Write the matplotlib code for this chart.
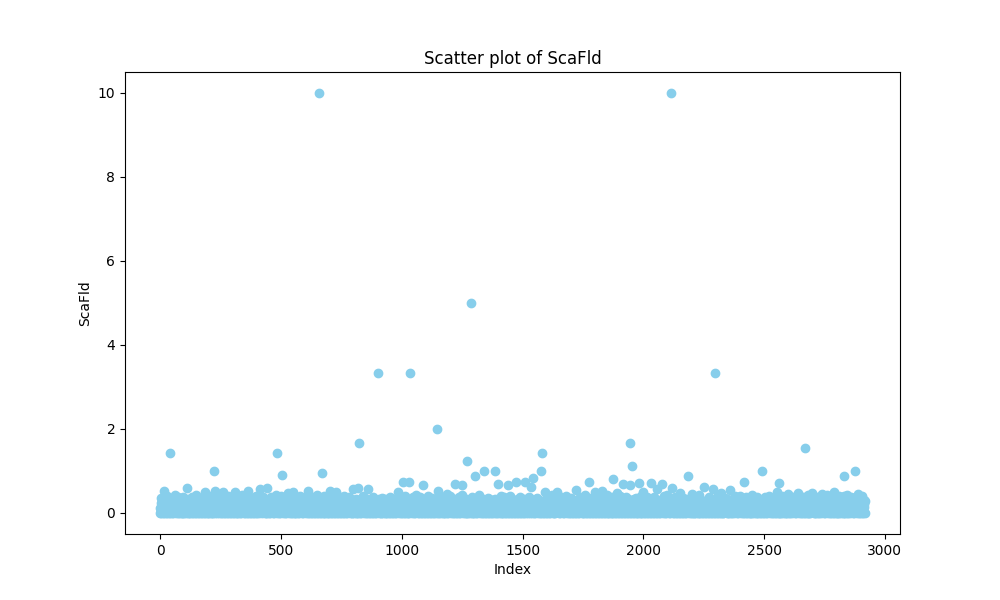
import numpy as np
import matplotlib
matplotlib.use("Agg")
import matplotlib.pyplot as plt

n_points = 2918

# bulk of the readings, typed as a repeating block (dense band 0 - 0.33)
band_cycle = [0.0, 0.12, 0.05, 0.25, 0.0, 0.18, 0.08, 0.30, 0.02, 0.15, 0.22, 0.10,
              0.0, 0.28, 0.06, 0.20, 0.14, 0.0, 0.33, 0.04, 0.17, 0.09, 0.24, 0.11]

# upper fringe of the band
fringe_idx = [16, 110, 184, 225, 259, 308, 362, 412, 443, 528, 548, 611, 701, 727, 797,
              818, 860, 984, 1150, 1186, 1592, 1644, 1722, 1802, 1831, 1890, 2000, 2058,
              2150, 2200, 2320, 2553, 2600, 2640, 2700, 2740, 2790, 2845, 2890,
              60, 150, 280, 340, 480, 580, 650, 760, 900, 1060, 1110, 1250, 1320, 1450,
              1620, 1680, 1760, 1850, 1990, 2100, 2230, 2400, 2450, 2520, 2680, 2760,
              2810, 2905]
fringe_val = [0.53, 0.59, 0.50, 0.52, 0.50, 0.50, 0.53, 0.57, 0.60, 0.47, 0.50, 0.53, 0.53,
              0.51, 0.56, 0.60, 0.56, 0.50, 0.52, 0.46, 0.50, 0.50, 0.55, 0.50, 0.52, 0.48,
              0.50, 0.56, 0.48, 0.45, 0.48, 0.50, 0.46, 0.48, 0.48, 0.45, 0.50, 0.42, 0.45,
              0.42, 0.44, 0.41, 0.43, 0.42, 0.40, 0.44, 0.41, 0.42, 0.43, 0.40, 0.42, 0.44,
              0.41, 0.43, 0.40, 0.42, 0.44, 0.41, 0.43, 0.42, 0.40, 0.44, 0.41, 0.43, 0.42,
              0.40, 0.41]

# lower bumps along the top of the band
bump_idx = [5, 30, 75, 95, 130, 170, 200, 240, 295, 320, 380, 395, 425, 460, 500, 520,
            560, 600, 630, 680, 715, 745, 780, 840, 880, 920, 950, 1015, 1045, 1075, 1125,
            1165, 1200, 1235, 1290, 1355, 1410, 1425, 1490, 1525, 1560, 1605, 1660, 1700,
            1740, 1785, 1815, 1870, 1905, 1930, 1970, 2015, 2045, 2085, 2130, 2165, 2210,
            2270, 2305, 2340, 2380, 2425, 2470, 2505, 2540, 2575, 2620, 2660, 2720, 2775,
            2830, 2860, 2880, 2915]
bump_val = [0.36, 0.40, 0.38, 0.37, 0.39, 0.36, 0.40, 0.38, 0.37, 0.39, 0.36, 0.41, 0.38,
            0.37, 0.40, 0.36, 0.38, 0.39, 0.37, 0.40, 0.36, 0.38, 0.39, 0.41, 0.37, 0.36,
            0.38, 0.40, 0.37, 0.39, 0.36, 0.38, 0.41, 0.37, 0.39, 0.36, 0.40, 0.38, 0.37,
            0.39, 0.36, 0.38, 0.37, 0.35, 0.38, 0.36, 0.39, 0.37, 0.40, 0.38, 0.36, 0.39,
            0.37, 0.40, 0.38, 0.36, 0.39, 0.37, 0.38, 0.36, 0.40, 0.37, 0.39, 0.38, 0.36,
            0.40, 0.37, 0.39, 0.38, 0.36, 0.40, 0.39, 0.37, 0.30]

# middle values 0.55 - 1.25
mid_idx = [1004, 1028, 1087, 1220, 1248, 1303, 1340, 1385, 1397, 1439, 1472, 1512, 1542,
           1536, 1578, 1777, 1874, 1918, 1945, 1953, 1984, 2032, 2076, 2117, 2184, 2250,
           2290, 2360, 2415, 2490, 2560, 2829, 2875, 223, 504, 669, 1269]
mid_val = [0.73, 0.73, 0.66, 0.70, 0.66, 0.87, 1.00, 1.00, 0.70, 0.66, 0.75, 0.74, 0.83,
           0.62, 1.00, 0.74, 0.81, 0.70, 0.67, 1.12, 0.71, 0.71, 0.68, 0.59, 0.88, 0.61,
           0.58, 0.54, 0.75, 1.00, 0.71, 0.88, 1.00, 1.00, 0.90, 0.95, 1.23]

# large outliers
big_idx = [40, 483, 656, 821, 900, 1036, 1145, 1285, 1580, 1947, 2116, 2298, 2671]
big_val = [1.43, 1.43, 10.0, 1.67, 3.33, 3.33, 2.0, 5.0, 1.43, 1.67, 10.0, 3.33, 1.54]

scafld = np.resize(band_cycle, n_points).astype(float)
scafld[bump_idx] = bump_val
scafld[fringe_idx] = fringe_val
scafld[mid_idx] = mid_val
scafld[big_idx] = big_val
index = np.arange(n_points)

plt.figure(figsize=(10, 6))
plt.scatter(index, scafld, color="skyblue")
plt.title("Scatter plot of ScaFld")
plt.xlabel("Index")
plt.ylabel("ScaFld")
plt.savefig("out.png", dpi=100)
